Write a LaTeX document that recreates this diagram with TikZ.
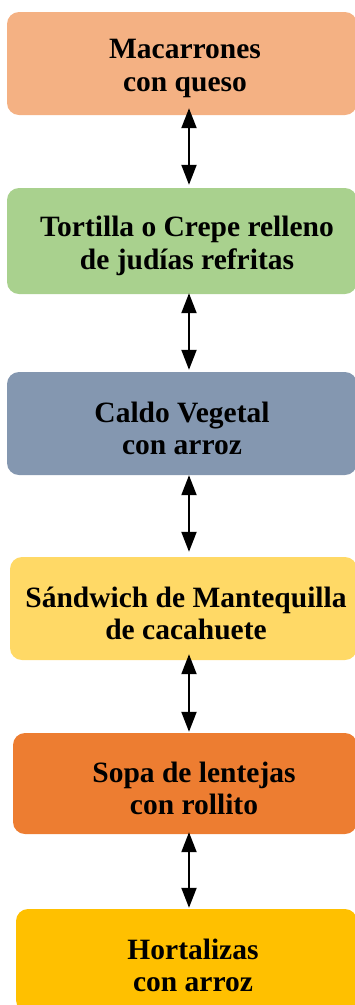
\documentclass[tikz,border=0pt]{standalone}
\usepackage{fontspec}
\setmainfont{Liberation Serif}
\usetikzlibrary{arrows.meta,calc}
\definecolor{c1}{HTML}{F4B183}
\definecolor{c2}{HTML}{A9D18E}
\definecolor{c3}{HTML}{8497B0}
\definecolor{c4}{HTML}{FFD966}
\definecolor{c5}{HTML}{ED7D31}
\definecolor{c6}{HTML}{FFC000}
\tikzset{
  foodbox/.style={rounded corners=12pt, inner sep=0pt},
  foodtext/.style={align=center, inner sep=0pt,
    font=\bfseries\fontsize{29.5}{32.5}\selectfont, text=black, yshift=-5pt},
  link/.style={line width=2pt, black, {Triangle[width=15pt,length=20pt]}-{Triangle[width=15pt,length=20pt]}}
}
\begin{document}
\begin{tikzpicture}[x=1pt,y=-1pt]
\useasboundingbox (0,0) rectangle (355,1005);
\coordinate (ax) at (189,0);
\node[foodbox, fill=c1, minimum width=350pt, minimum height=103pt,
  label={[foodtext, xshift=3pt]center:{Macarrones\\con queso}}] (b1) at (182,63.5) {};
\node[foodbox, fill=c2, minimum width=350pt, minimum height=106pt,
  label={[foodtext, xshift=5pt]center:{Tortilla o Crepe relleno\\de judías refritas}}] (b2) at (182,241) {};
\node[foodbox, fill=c3, minimum width=350pt, minimum height=103pt,
  label={[foodtext, xshift=0pt]center:{Caldo Vegetal\\con arroz}}] (b3) at (182,423.5) {};
\node[foodbox, fill=c4, minimum width=347pt, minimum height=103pt,
  label={[foodtext, xshift=2.5pt]center:{Sándwich de Mantequilla\\de cacahuete}}] (b4) at (183.5,608.5) {};
\node[foodbox, fill=c5, minimum width=344pt, minimum height=101pt,
  label={[foodtext, xshift=9pt]center:{Sopa de lentejas\\con rollito}}] (b5) at (185,783.5) {};
\node[foodbox, fill=c6, minimum width=341pt, minimum height=103pt,
  label={[foodtext, xshift=6.5pt]center:{Hortalizas\\con arroz}}] (b6) at (186.5,960.5) {};
% connectors
\draw[link, shorten <=-7pt, shorten >=3pt] (b1.south -| ax) -- (b2.north -| ax);
\draw[link, shorten <=-1pt, shorten >=2pt] (b2.south -| ax) -- (b3.north -| ax);
\draw[link, shorten <=0pt, shorten >=5pt] (b3.south -| ax) -- (b4.north -| ax);
\draw[link, shorten <=-6pt, shorten >=1pt] (b4.south -| ax) -- (b5.north -| ax);
\draw[link, shorten <=-2pt, shorten >=1pt] (b5.south -| ax) -- (b6.north -| ax);
\end{tikzpicture}
\end{document}
